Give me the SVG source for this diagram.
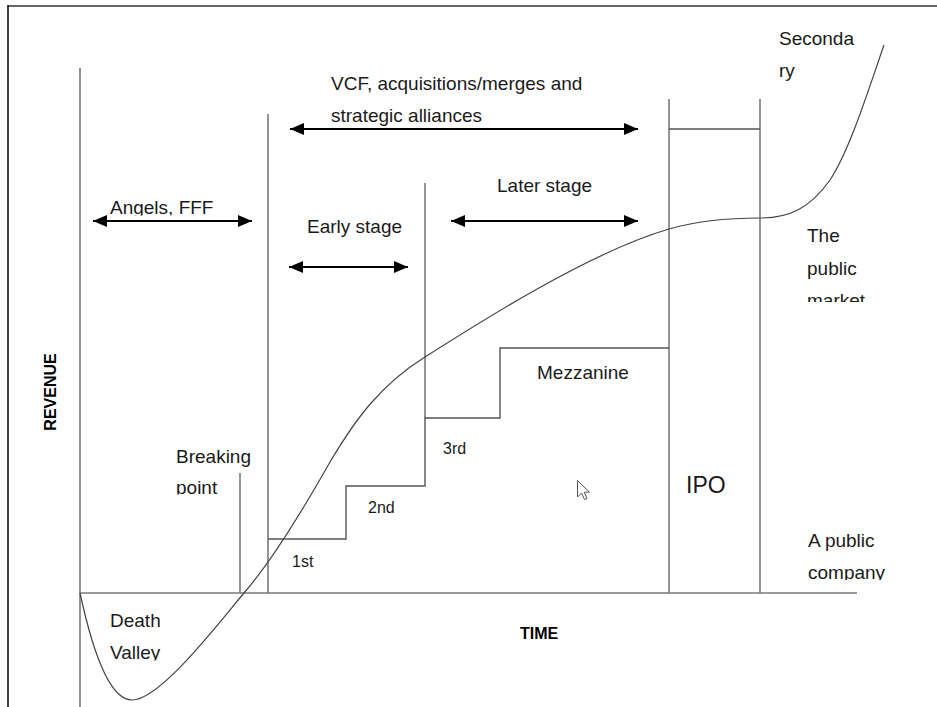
<svg xmlns="http://www.w3.org/2000/svg" width="937" height="707" viewBox="0 0 937 707">
  <style>
    .grid { stroke: #7a7a7a; stroke-width: 1.6; fill: none; }
    .step { stroke: #555; stroke-width: 1.4; fill: none; }
    .curve { stroke: #444; stroke-width: 1.2; fill: none; }
    .span { stroke: #000; stroke-width: 2; fill: none; marker-start: url(#tipL); marker-end: url(#tipR); }
    text { font-family: "Liberation Sans", Arial, sans-serif; font-size: 19px; fill: #1a1a1a; }
    .small { font-size: 16px; }
    .axis { font-weight: bold; font-size: 16px; fill: #000; }
    .big { font-size: 23px; }
  </style>
  <defs>
    <marker id="tipR" viewBox="0 0 14 12" refX="14" refY="6" markerWidth="14" markerHeight="12" markerUnits="userSpaceOnUse" orient="auto">
      <path d="M0,0 L14,6 L0,12 Z" fill="#000"/>
    </marker>
    <marker id="tipL" viewBox="0 0 14 12" refX="0" refY="6" markerWidth="14" markerHeight="12" markerUnits="userSpaceOnUse" orient="auto">
      <path d="M14,0 L0,6 L14,12 Z" fill="#000"/>
    </marker>
    <clipPath id="clipAngels"><rect x="100" y="190" width="160" height="25.5"/></clipPath>
    <clipPath id="clipPoint"><rect x="170" y="475" width="80" height="19.5"/></clipPath>
    <clipPath id="clipMarket"><rect x="800" y="285" width="100" height="17"/></clipPath>
    <clipPath id="clipCompany"><rect x="800" y="560" width="110" height="20"/></clipPath>
    <clipPath id="clipValley"><rect x="100" y="640" width="80" height="20.5"/></clipPath>
  </defs>

  <rect width="937" height="707" fill="#fff"/>

  <!-- outer frame -->
  <g id="frame">
    <line x1="8" y1="6" x2="937" y2="6" stroke="#666" stroke-width="2"/>
    <line x1="8" y1="5" x2="8" y2="707" stroke="#111" stroke-width="1.6"/>
  </g>

  <!-- axes and stage dividers -->
  <g id="axes">
    <line class="grid" x1="80" y1="68" x2="80" y2="707"/>
    <line class="grid" x1="80" y1="593" x2="857" y2="593"/>
    <line class="grid" x1="268" y1="114" x2="268" y2="593"/>
    <line class="grid" x1="425" y1="183" x2="425" y2="418"/>
    <line class="grid" x1="669" y1="99" x2="669" y2="593"/>
    <line class="grid" x1="760" y1="99" x2="760" y2="593"/>
    <line class="step" x1="669" y1="129" x2="760" y2="129"/>
    <line class="grid" x1="240" y1="473" x2="240" y2="593"/>
  </g>

  <!-- funding rounds staircase -->
  <g id="staircase">
    <polyline class="step" points="268,539 346,539 346,486 425,486 425,418 500,418 500,348 669,348"/>
  </g>

  <!-- revenue curve -->
  <g id="revenue-curve">
    <path class="curve" d="M80,593 C88,630 105,700 132,700 C160,700 218,624 244,593 C270,563 300,515 330,462 C355,420 380,385 425,357 C480,322 590,252 669,229 C700,220 730,218 760,218 C790,218 810,208 830,180 C850,150 870,85 884,45"/>
  </g>

  <!-- financing span arrows -->
  <g id="connectors">
    <line class="span" x1="93" y1="221" x2="252" y2="221"/>
    <line class="span" x1="290" y1="129" x2="638" y2="129"/>
    <line class="span" x1="289" y1="267" x2="408" y2="267"/>
    <line class="span" x1="451" y1="221" x2="638" y2="221"/>
  </g>

  <!-- labels -->
  <g id="label-angels"><text x="110" y="214" clip-path="url(#clipAngels)">Angels, FFF</text></g>
  <g id="label-vcf">
    <text x="331" y="90">VCF, acquisitions/merges and</text>
    <text x="331" y="122">strategic alliances</text>
  </g>
  <g id="label-early"><text x="307" y="233">Early stage</text></g>
  <g id="label-later"><text x="497" y="192">Later stage</text></g>
  <g id="label-secondary">
    <text x="779" y="45">Seconda</text>
    <text x="779" y="77">ry</text>
  </g>
  <g id="label-public-market">
    <text x="807" y="242">The</text>
    <text x="807" y="275">public</text>
    <text x="807" y="307" clip-path="url(#clipMarket)">market</text>
  </g>
  <g id="label-mezzanine"><text x="537" y="379">Mezzanine</text></g>
  <g id="label-ipo"><text class="big" x="686" y="493">IPO</text></g>
  <g id="label-public-company">
    <text x="808" y="547">A public</text>
    <text x="808" y="579" clip-path="url(#clipCompany)">company</text>
  </g>
  <g id="label-breaking">
    <text x="176" y="463">Breaking</text>
    <text x="176" y="494" clip-path="url(#clipPoint)">point</text>
  </g>
  <g id="label-rounds">
    <text class="small" x="292" y="567">1st</text>
    <text class="small" x="368" y="513">2nd</text>
    <text class="small" x="443" y="454" font-size="15">3rd</text>
  </g>
  <g id="label-death-valley">
    <text x="110" y="627">Death</text>
    <text x="110" y="659" clip-path="url(#clipValley)">Valley</text>
  </g>
  <g id="label-time"><text class="axis" x="520" y="639">TIME</text></g>
  <g id="label-revenue"><text class="axis" x="0" y="0" text-anchor="middle" transform="translate(56,392) rotate(-90)">REVENUE</text></g>

  <!-- mouse pointer -->
  <g id="pointer">
    <path d="M577.5,480.5 L577.5,497 L581.5,493 L584.5,499.5 L587,498.5 L584.2,492.2 L589.5,492.2 Z" fill="#fff" stroke="#555" stroke-width="1" stroke-linejoin="round"/>
  </g>
</svg>
